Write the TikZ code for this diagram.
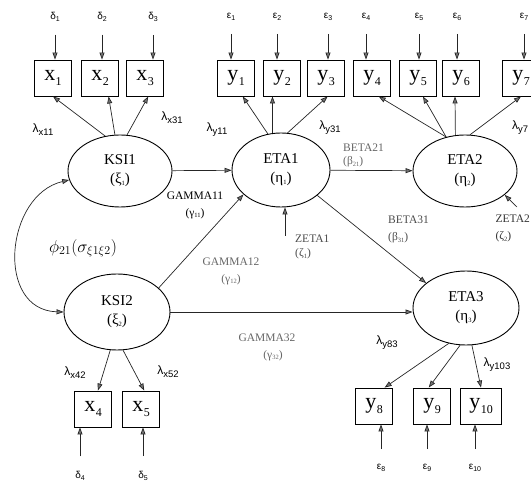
\documentclass[tikz,border=0pt]{standalone}
\usepackage{fontspec}
\setmainfont{Liberation Serif}
\newfontfamily\labfont{Liberation Sans}
\usepackage{tikz}
\usetikzlibrary{positioning, arrows.meta, shapes.geometric}

% observed variable with its index, error term, loading
\newcommand{\obsvar}[2]{#1\kern0.5pt\raisebox{-0.45ex}{\fontsize{12}{12}\selectfont #2}}
\newcommand{\errlab}[2]{{\labfont\fontsize{10}{10}\selectfont #1\raisebox{-0.35ex}{\fontsize{7}{7}\selectfont #2}}}
\newcommand{\lamlab}[1]{{\labfont\fontsize{12}{12}\selectfont λ\raisebox{-0.45ex}{\fontsize{9.5}{9.5}\selectfont #1}}}
\newcommand{\tsub}[1]{\raisebox{-0.3ex}{\fontsize{6.5}{6.5}\selectfont #1}}

\begin{document}
\begin{tikzpicture}[
  x=1pt, y=-1pt,
  latent/.style={ellipse, draw, line width=0.9pt, inner sep=0pt, align=center,
                 font=\fontsize{15}{19}\selectfont},
  manifest/.style={rectangle, draw, line width=0.9pt, inner sep=0pt,
                   minimum width=37pt, minimum height=36pt, font=\fontsize{22}{22}\selectfont},
  err/.style={inner sep=1pt},
  coef/.style={font=\fontsize{11.5}{17}\selectfont, align=center, inner sep=0pt},
  coefl/.style={coef, align=left, anchor=north west},
  path/.style={-{Triangle[length=7pt,width=5pt,fill=black!55]}, line width=0.7pt, black!85},
  corr/.style={{Triangle[length=7pt,width=5pt,fill=black!55]}-{Triangle[length=7pt,width=5pt,fill=black!55]},
               line width=0.7pt, black!85}
]
\useasboundingbox (0,0) rectangle (531,486);

% latent variables
\node[latent, minimum width=104pt, minimum height=72pt] (ksi1) at (120,171) {KSI1\\(ξ\tsub{1})};
\node[latent, minimum width=98pt,  minimum height=74pt] (eta1) at (281,170) {ETA1\\(η\tsub{1})};
\node[latent, minimum width=104pt, minimum height=72pt] (eta2) at (465,171) {ETA2\\(η\tsub{2})};
\node[latent, minimum width=106pt, minimum height=76pt] (ksi2) at (117,312) {KSI2\\(ξ\tsub{2})};
\node[latent, minimum width=106pt, minimum height=74pt] (eta3) at (466,308) {ETA3\\(η\tsub{3})};

% indicators
\node[manifest] (x1)  at (53,78)  {\obsvar{x}{1}};
\node[manifest] (x2)  at (100,78) {\obsvar{x}{2}};
\node[manifest] (x3)  at (145,78) {\obsvar{x}{3}};
\node[manifest] (y1)  at (236,78) {\obsvar{y}{1}};
\node[manifest] (y2)  at (282,78) {\obsvar{y}{2}};
\node[manifest] (y3)  at (326,78) {\obsvar{y}{3}};
\node[manifest] (y4)  at (372,78) {\obsvar{y}{4}};
\node[manifest] (y5)  at (418,78) {\obsvar{y}{5}};
\node[manifest] (y6)  at (461,78) {\obsvar{y}{6}};
\node[manifest] (y7)  at (521,78) {\obsvar{y}{7}};
\node[manifest] (x4)  at (93,409)  {\obsvar{x}{4}};
\node[manifest] (x5)  at (141,409) {\obsvar{x}{5}};
\node[manifest] (y8)  at (374,406) {\obsvar{y}{8}};
\node[manifest] (y9)  at (432,406) {\obsvar{y}{9}};
\node[manifest, minimum width=41pt] (y10) at (481,406) {\obsvar{y}{10}};

% measurement errors
\node[err] (d1)  at (55,17)  {\errlab{δ}{1}};
\node[err] (d2)  at (102,17) {\errlab{δ}{2}};
\node[err] (d3)  at (153,17) {\errlab{δ}{3}};
\node[err] (e1)  at (231,17) {\errlab{ε}{1}};
\node[err] (e2)  at (277,17) {\errlab{ε}{2}};
\node[err] (e3)  at (328,17) {\errlab{ε}{3}};
\node[err] (e4)  at (366,17) {\errlab{ε}{4}};
\node[err] (e5)  at (419,17) {\errlab{ε}{5}};
\node[err] (e6)  at (457,17) {\errlab{ε}{6}};
\node[err] (e7)  at (524,17) {\errlab{ε}{7}};
\node[err] (d4)  at (80,476)  {\errlab{δ}{4}};
\node[err] (d5)  at (143,476) {\errlab{δ}{5}};
\node[err] (e8)  at (381,468) {\errlab{ε}{8}};
\node[err] (e9)  at (427,468) {\errlab{ε}{9}};
\node[err] (e10) at (475,468) {\errlab{ε}{10}};

\foreach \e/\b in {d1/x1, d2/x2, d3/x3, e1/y1, e2/y2, e3/y3, e4/y4, e5/y5, e6/y6, e7/y7}
  \draw[path, shorten <=12pt] (\e.south) -- (\e.south |- \b.north);
\foreach \e/\b in {d4/x4, d5/x5, e8/y8, e9/y9, e10/y10}
  \draw[path, shorten <=14pt] (\e.north) -- (\e.north |- \b.south);

% loadings
\draw[path] (ksi1.113) -- (x1.south);
\draw[path] (ksi1.98)  -- (x2.-65);
\draw[path] (ksi1.79)  -- (x3.-80);
\draw[path] (eta1.110) -- (y1.-70);
\draw[path] (eta1.103) -- (eta1.103 |- y2.south);
\draw[path] (eta1.80)  -- (y3.-85);
\draw[path] (eta2.119) -- (y4.-70);
\draw[path] (eta2.119) -- (y5.-75);
\draw[path] (eta2.105) -- (y6.-108);
\draw[path] (eta2.82)  -- (y7.south);
\draw[path] (ksi2.-100) -- (x4.75);
\draw[path] (ksi2.-81)  -- (x5.80);
\draw[path] (eta3.-116) -- (y8.60);
\draw[path] (eta3.-99)  -- (y9.100);
\draw[path] (eta3.-81)  -- (y10.north);

\node (lx11)  at (43,130)  {\lamlab{x11}};
\node (lx31)  at (172,118) {\lamlab{x31}};
\node (ly11)  at (217,130) {\lamlab{y11}};
\node (ly31)  at (330,128) {\lamlab{y31}};
\node[anchor=west, inner sep=0pt] (ly7) at (512,128) {\lamlab{y7}};
\node (lx42)  at (75,373)  {\lamlab{x42}};
\node (lx52)  at (168,372) {\lamlab{x52}};
\node (ly83)  at (387,343) {\lamlab{y83}};
\node (ly103) at (497,365) {\lamlab{y103}};

% structural paths
\draw[path] (ksi1) -- (eta1);
\draw[path] (eta1) -- (eta2);
\draw[path] (ksi2.30) -- (eta1.213);
\draw[path] (eta1.-35) -- (eta3.148);
\draw[path] (ksi2.east) -- (ksi2.east -| eta3.west);
\draw[corr] (ksi1.190) .. controls (5,195) and (-5,310) .. (ksi2.west);

% disturbances
\coordinate (z1) at (285,236);
\coordinate (z2) at (517,207);
\draw[path] (z1) -- (z1 |- eta1.south);
\draw[path] (z2) -- (eta2.-31);

% coefficient labels
\node[coef] (g11) at (195,205) {GAMMA11\\(γ\tsub{11})};
\node[coef, black!60] (g12) at (231,271) {GAMMA12\\(γ\tsub{12})};
\node[coef, black!60] (g32) at (267,347) {GAMMA32\\\hspace*{12pt}(γ\tsub{32})};
\node[coefl, black!60, font=\fontsize{11.5}{13}\selectfont] (b21) at (343,144) {BETA21\\(β\tsub{21})};
\node[coefl, black!70] (b31) at (388,216) {BETA31\\(β\tsub{31})};
\node[coefl, black!70, font=\fontsize{11.5}{14}\selectfont] (z1lab) at (295,235) {ZETA1\\(ζ\tsub{1})};
\node[coefl, black!80, anchor=north east, align=left] (z2lab) at (530,215) {ZETA2\\(ζ\tsub{2})};

\node[font=\fontsize{16.5}{16.5}\selectfont] (phi) at (83,248) {$\phi_{21}(\sigma_{\xi1\xi2})$};
\end{tikzpicture}
\end{document}
